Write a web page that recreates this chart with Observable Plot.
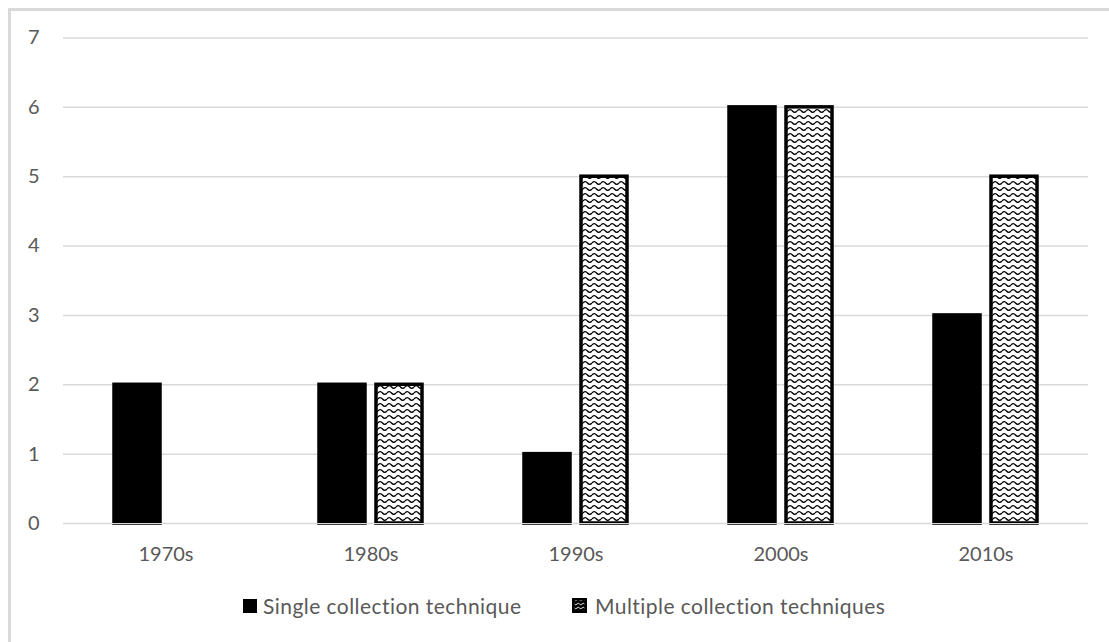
<!DOCTYPE html>
<html>
<head>
<meta charset="utf-8">
<script src="https://cdn.jsdelivr.net/npm/d3@7"></script>
<script src="https://cdn.jsdelivr.net/npm/@observablehq/plot@0.6"></script>
<style>
  html, body { margin: 0; padding: 0; background: #fff; }
  body { width: 1109px; height: 642px; overflow: hidden; position: relative; font-family: Lato, "Open Sans", sans-serif; }
  #frame { position: absolute; left: 8px; top: 8px; width: 1130px; height: 680px; border: 3px solid #d9d9d9; box-sizing: border-box; }
  #chart { position: absolute; left: 0; top: 0; }
  .legend-item { position: absolute; top: 593px; display: flex; align-items: center; font-size: 21px; letter-spacing: 0.45px; color: #595959; white-space: nowrap; }
  .swatch { width: 14px; height: 14px; margin-right: 6px; box-sizing: border-box; }
</style>
</head>
<body>
<div id="frame"></div>
<div id="chart"></div>
<div class="legend-item" style="left:243px"><span class="swatch" style="background:#000"></span><span id="lg1"></span></div>
<div class="legend-item" style="left:572px"><svg class="swatch" width="15" height="15" viewBox="0 0 15 15" style="width:15px;height:15px;margin-right:8px"><defs><pattern id="waveSwatch" width="5" height="4" patternUnits="userSpaceOnUse"><path d="M0,2 Q1.25,0.5 2.5,2 T5,2" fill="none" stroke="#fff" stroke-width="0.9"/></pattern></defs><rect x="0" y="0" width="15" height="15" fill="#000"/><rect x="2.5" y="2.5" width="10" height="10" fill="url(#waveSwatch)"/></svg><span id="lg2"></span></div>
<script>
// Number of studies per decade, by collection approach
const decades = ["1970s", "1980s", "1990s", "2000s", "2010s"];
const singleCounts = [2, 2, 1, 6, 3];
const multipleCounts = [0, 2, 5, 6, 5];
const seriesNames = ["Single collection technique", "Multiple collection techniques"];
const yTicks = [0, 1, 2, 3, 4, 5, 6, 7];

const singleRows = decades.map((decade, i) => ({decade, series: seriesNames[0], value: singleCounts[i]})).filter(d => d.value > 0);
const multipleRows = decades.map((decade, i) => ({decade, series: seriesNames[1], value: multipleCounts[i]})).filter(d => d.value > 0);

document.getElementById("lg1").textContent = seriesNames[0];
document.getElementById("lg2").textContent = seriesNames[1];

const svg = Plot.plot({
  width: 1109,
  height: 580,
  marginLeft: 61,
  marginRight: 19,
  marginTop: 37.5,
  marginBottom: 57,
  style: {fontFamily: "Lato, 'Open Sans', sans-serif", fontSize: "20px", color: "#595959", background: "transparent", overflow: "visible"},
  fx: {domain: decades, paddingInner: 0, paddingOuter: 0, label: null, axis: "bottom", tickSize: 0, tickPadding: 23},
  x: {domain: seriesNames, paddingInner: 0.198, paddingOuter: 0.873, axis: null},
  y: {domain: [0, 7], ticks: yTicks, tickSize: 0, tickPadding: 24, label: null, tickFormat: d3.format("d")},
  marks: [
    Plot.ruleY(yTicks, {stroke: "#d9d9d9", strokeWidth: 1.5}),
    Plot.barY(singleRows, {fx: "decade", x: "series", y: "value", fill: "#000", stroke: "#000", strokeWidth: 3.5}),
    Plot.barY(multipleRows, {fx: "decade", x: "series", y: "value", fill: "url(#wave)", stroke: "#000", strokeWidth: 3.5}),
    Plot.ruleY([0], {stroke: "#d9d9d9", strokeWidth: 1.2})
  ]
});

// Wavy hatch used for the "multiple techniques" bars
const defs = d3.select(svg).insert("defs", ":first-child");
const pat = defs.append("pattern")
  .attr("id", "wave")
  .attr("width", 9)
  .attr("height", 6)
  .attr("patternUnits", "userSpaceOnUse");
pat.append("rect").attr("width", 9).attr("height", 6).attr("fill", "#fff");
pat.append("path")
  .attr("d", "M0,3 Q2.25,0.2 4.5,3 T9,3")
  .attr("fill", "none")
  .attr("stroke", "#000")
  .attr("stroke-width", 1.3);

document.getElementById("chart").appendChild(svg);
</script>
</body>
</html>
